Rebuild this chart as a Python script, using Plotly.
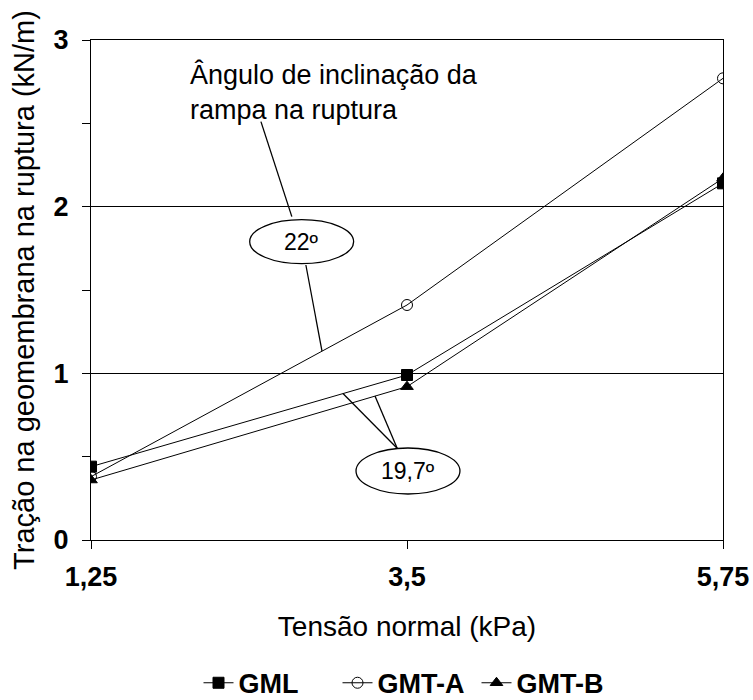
import numpy as np
import plotly.graph_objects as go

# Normal stress (kPa) and geomembrane tension at failure (kN/m)
tensao = [1.25, 3.5, 5.75]
tick_text = ["1,25", "3,5", "5,75"]
gml = [0.44, 0.99, 2.14]
gmt_a = [0.38, 1.41, 2.77]
gmt_b = [0.36, 0.92, 2.17]

FONT = "Arial, Liberation Sans, sans-serif"

fig = go.Figure()

series = [
    ("GML", gml, "square", "black"),
    ("GMT-A", gmt_a, "circle-open", "black"),
    ("GMT-B", gmt_b, "triangle-up", "black"),
]
for name, ys, sym, col in series:
    fig.add_trace(go.Scatter(
        x=tensao, y=ys, name=name, mode="lines+markers",
        line=dict(color="black", width=1),
        marker=dict(symbol=sym, size=11, color=col,
                    line=dict(color="black", width=1)),
    ))

shapes = []
annotations = []

# Ellipse callouts for the ramp inclination angles
def ellipse(cx, cy, rx, ry, label):
    shapes.append(dict(type="circle", xref="x", yref="y",
                       x0=cx - rx, x1=cx + rx, y0=cy - ry, y1=cy + ry,
                       line=dict(color="black", width=1.3),
                       fillcolor="white", layer="above"))
    annotations.append(dict(x=cx, y=cy, xref="x", yref="y", text=label,
                            showarrow=False,
                            font=dict(family=FONT, size=23, color="black")))

def leader(x0, y0, x1, y1):
    shapes.append(dict(type="line", xref="x", yref="y",
                       x0=x0, y0=y0, x1=x1, y1=y1,
                       line=dict(color="black", width=1.3), layer="above"))

# 22º callout pointing to the GMT-A line
leader(2.46, 2.51, 2.68, 1.94)
xa = 2.895
leader(2.78, 1.65, xa, float(np.interp(xa, tensao, gmt_a)))
ellipse(2.75, 1.79, 0.37, 0.132, "22º")

# 19,7º callout pointing to the GML and GMT-B lines
xg, xb = 3.044, 3.272
leader(3.43, 0.55, xg, float(np.interp(xg, tensao, gml)))
leader(3.43, 0.55, xb, float(np.interp(xb, tensao, gmt_b)))
ellipse(3.507, 0.414, 0.37, 0.138, "19,7º")

annotations.append(dict(
    x=0.1535, y=0.966, xref="paper", yref="paper",
    xanchor="left", yanchor="top", align="left", showarrow=False,
    text="Ângulo de inclinação da<br>rampa na ruptura",
    font=dict(family=FONT, size=27, color="black"),
))

fig.update_layout(
    width=753, height=700,
    margin=dict(l=91, r=30, t=40, b=160, autoexpand=False),
    paper_bgcolor="white", plot_bgcolor="white",
    showlegend=True,
    legend=dict(orientation="h", x=0.5, xanchor="center",
                yref="container", y=0.024, yanchor="middle",
                font=dict(family=FONT, size=27, color="black", weight="bold"),
                itemwidth=30, entrywidth=94, tracegroupgap=0),
    shapes=shapes,
    annotations=annotations,
    xaxis=dict(
        range=[1.25, 5.75], tickvals=tensao, ticktext=tick_text,
        showgrid=False, zeroline=False,
        showline=True, linecolor="black", linewidth=1.3, mirror=True,
        ticks="outside", ticklen=8, tickcolor="black",
        ticklabelstandoff=4,
        tickfont=dict(family=FONT, size=27, color="black", weight="bold"),
        title=dict(text="Tensão normal (kPa)", standoff=25,
                   font=dict(family=FONT, size=28, color="black")),
        automargin=False,
    ),
    yaxis=dict(
        range=[0, 3], tickvals=[0, 1, 2, 3], ticktext=["0", "1", "2", "3"],
        showgrid=True, gridcolor="black", gridwidth=1,
        zeroline=False,
        showline=True, linecolor="black", linewidth=1.3, mirror=True,
        ticks="outside", ticklen=8, tickcolor="black",
        ticklabelstandoff=8,
        minor=dict(tickvals=[0.5, 1.5, 2.5], ticks="outside", ticklen=8,
                   tickcolor="black", showgrid=False),
        tickfont=dict(family=FONT, size=27, color="black", weight="bold"),
        title=dict(text="Tração na geomembrana na ruptura (kN/m)", standoff=10,
                   font=dict(family=FONT, size=29, color="black")),
        automargin=False,
    ),
)

fig.write_html("out.html")
